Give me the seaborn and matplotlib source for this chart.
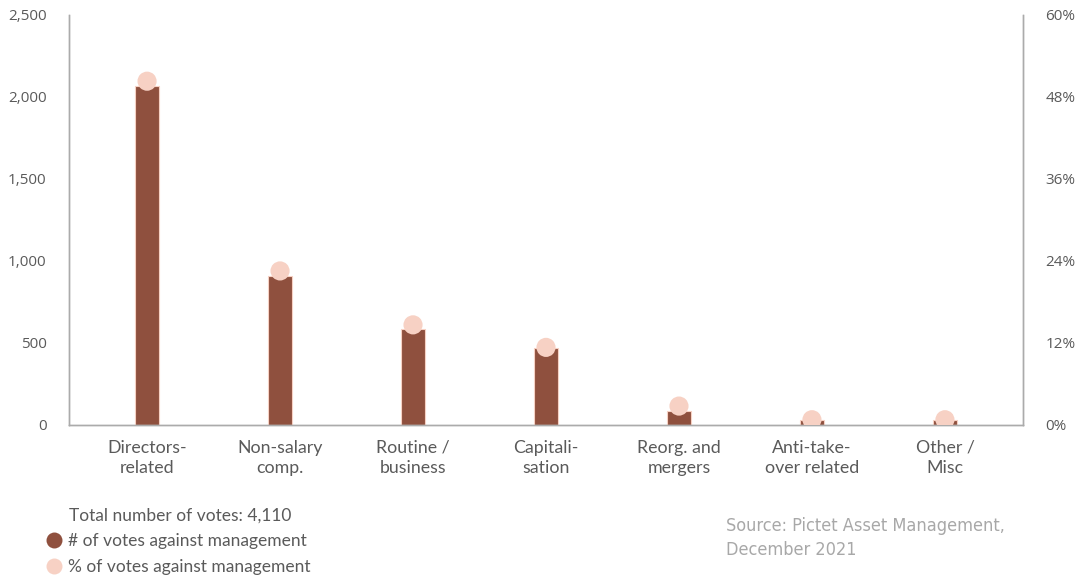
import matplotlib
matplotlib.use("Agg")
import matplotlib.pyplot as plt
from matplotlib.lines import Line2D
from matplotlib.ticker import FuncFormatter
import seaborn as sns
import pandas as pd

# Votes against management by proposal category
categories = ["Directors-\nrelated", "Non-salary\ncomp.", "Routine /\nbusiness", "Capitali-\nsation",
              "Reorg. and\nmergers", "Anti-take-\nover related", "Other /\nMisc"]
votes_against = [2065, 905, 580, 470, 85, 25, 25]
pct_against = [50.3, 22.5, 14.6, 11.3, 2.7, 0.7, 0.7]
left_ticks = [0, 500, 1000, 1500, 2000, 2500]
right_ticks = [0, 12, 24, 36, 48, 60]
total_votes_label = "Total number of votes: 4,110"
legend_labels = ["# of votes against management", "% of votes against management"]
source_text = "Source: Pictet Asset Management,\nDecember 2021"

BAR = "#8F503E"
DOT = "#F7D1C4"
SPINE = "#ABABAB"
TICK = "#5A5A5A"

sns.set_theme(style="white")
plt.rcParams["font.family"] = ["Lato", "DejaVu Sans"]

df = pd.DataFrame({"category": categories, "votes": votes_against, "pct": pct_against})

fig = plt.figure(figsize=(10.8, 5.8), dpi=100)
ax = fig.add_axes([69 / 1080, 1 - 424.5 / 580, (1023 - 69) / 1080, (424.5 - 15) / 580])

sns.barplot(data=df, x="category", y="votes", color=BAR, width=0.175,
            edgecolor=DOT, linewidth=0.8, saturation=1, ax=ax)
ax.set_ylim(0, 2500)
ax.set_xlim(-0.587, 6.587)
ax.set_yticks(left_ticks)
ax.yaxis.set_major_formatter(FuncFormatter(lambda v, p: f"{int(v):,}"))
ax.set_xlabel("")
ax.set_ylabel("")

ax2 = ax.twinx()
sns.scatterplot(data=df, x="category", y="pct", color=DOT, s=190, edgecolor="none",
                ax=ax2, zorder=5, legend=False)
ax2.set_ylim(0, 60)
ax2.set_yticks(right_ticks)
ax2.yaxis.set_major_formatter(FuncFormatter(lambda v, p: f"{int(v)}%"))
ax2.set_ylabel("")
ax2.set_xlim(-0.587, 6.587)

for a in (ax, ax2):
    a.spines["top"].set_visible(False)
    for side in ("left", "right", "bottom"):
        a.spines[side].set_color(SPINE)
        a.spines[side].set_linewidth(1.0)
    a.tick_params(length=0, colors=TICK)

ax.tick_params(axis="y", labelsize=11, pad=16, labelfontfamily="Open Sans")
ax2.tick_params(axis="y", labelsize=11, pad=16, labelfontfamily="Open Sans")
ax.tick_params(axis="x", labelsize=12.8, pad=11, colors=TICK)
for lab in ax.get_xticklabels():
    lab.set_linespacing(1.35)

# Legend block
fig.text(69 / 1080, 1 - 516 / 580, total_votes_label, fontsize=12.5, color=TICK, va="center")
handles = [Line2D([], [], marker="o", linestyle="", markersize=11.5, markerfacecolor=BAR, markeredgecolor="none"),
           Line2D([], [], marker="o", linestyle="", markersize=11.5, markerfacecolor=DOT, markeredgecolor="none")]
fig.legend(handles, legend_labels, loc="upper left", bbox_to_anchor=(45 / 1080, 1 - 533 / 580),
           frameon=False, fontsize=12.5, handletextpad=0.3, labelspacing=0.6,
           handlelength=1.0, borderpad=0, borderaxespad=0, labelcolor=TICK)

fig.text(726 / 1080, 1 - 538 / 580, source_text, fontsize=13, color="#A8A8A8",
         family="DejaVu Sans", stretch="condensed", va="center", linespacing=1.4)

fig.savefig("out.png", dpi=100)
